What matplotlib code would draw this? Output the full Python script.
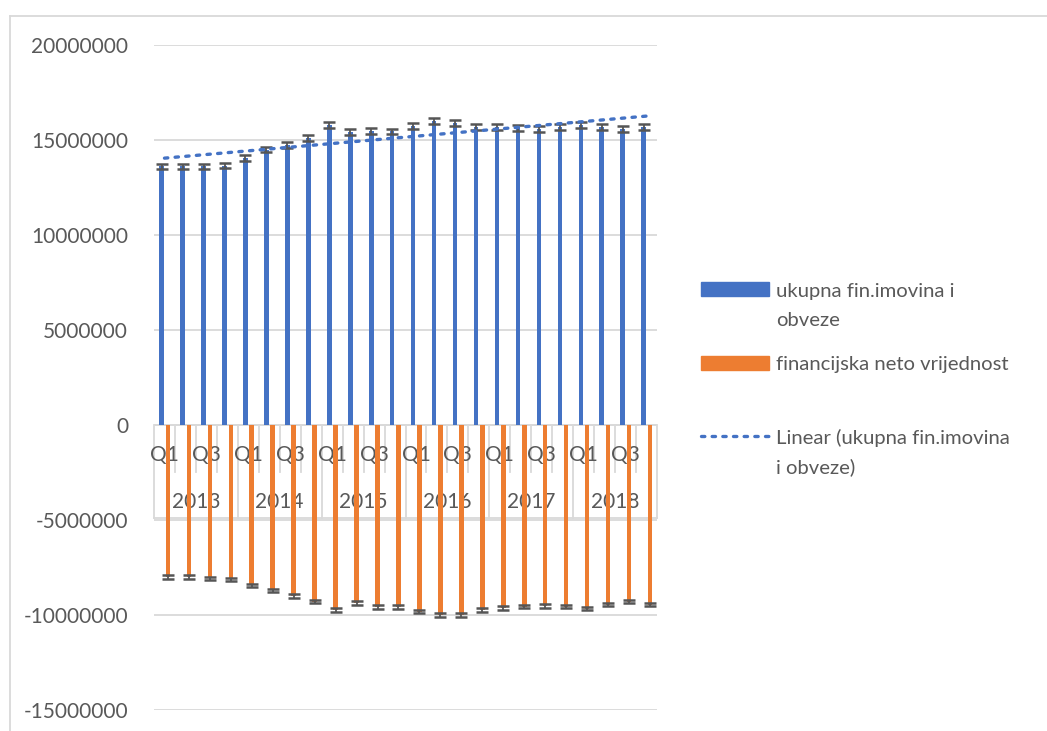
import numpy as np
import matplotlib
matplotlib.use("Agg")
import matplotlib.pyplot as plt
from matplotlib.lines import Line2D
from matplotlib.patches import Rectangle

years = ["2013", "2014", "2015", "2016", "2017", "2018"]
quarters = ["Q1", "Q2", "Q3", "Q4"]
quarter_labels = ["Q1", "", "Q3", ""]

ukupna = [13610000, 13610000, 13610000, 13650000, 14060000, 14500000,
          14750000, 15100000, 15800000, 15410000, 15470000, 15450000,
          15740000, 16000000, 15910000, 15660000, 15670000, 15650000,
          15600000, 15670000, 15780000, 15670000, 15600000, 15670000]
neto = [-8000000, -8000000, -8060000, -8110000, -8440000, -8710000,
        -9010000, -9290000, -9730000, -9380000, -9570000, -9570000,
        -9820000, -9990000, -10010000, -9720000, -9620000, -9560000,
        -9530000, -9560000, -9660000, -9450000, -9290000, -9450000]
err_pct = 0.01

label_a = ["ukupna fin.imovina i", "obveze"]
label_b = ["financijska neto vrijednost"]
label_c = ["Linear (ukupna fin.imovina", "i obveze)"]

blue = "#4472C4"
orange = "#ED7D31"
txt = "#595959"
grid = "#D9D9D9"
FONT = ["Lato", "DejaVu Sans"]
FS = 15.0
FS_LEG = 14.6

plt.rcParams["font.family"] = FONT

W, H = 1047, 731
fig = plt.figure(figsize=(W / 100, H / 100), dpi=100)
L, R, T, B = 154, 657, 45, 710
ax = fig.add_axes([L / W, 1 - B / H, (R - L) / W, (B - T) / H])

n = len(ukupna)
x = np.arange(1, n + 1)
a = np.array(ukupna, dtype=float)
b = np.array(neto, dtype=float)

bw = 0.22
ax.bar(x - 0.135, a, width=bw, color=blue, zorder=3,
       yerr=np.abs(a) * err_pct, error_kw=dict(ecolor="#555555", elinewidth=1.3,
                                                capsize=4.2, capthick=1.8, zorder=4))
ax.bar(x + 0.165, b, width=bw, color=orange, zorder=3,
       yerr=np.abs(b) * err_pct, error_kw=dict(ecolor="#555555", elinewidth=1.3,
                                                capsize=4.2, capthick=1.8, zorder=4))

# linear trend of the blue series
k, c0 = np.polyfit(x, a, 1)
ax.plot(x, k * x + c0, color=blue, linestyle=(0, (1, 2.2)), linewidth=2.4,
        dash_capstyle="round", zorder=5)

ax.set_xlim(0.5, n + 0.5)
ax.set_ylim(-15000000, 20000000)
ax.set_yticks(np.arange(-15000000, 20000001, 5000000))
ax.yaxis.set_major_formatter(matplotlib.ticker.FuncFormatter(lambda v, p: f"{int(v)}"))
ax.tick_params(axis="y", length=0, pad=18.7, labelsize=FS, labelcolor=txt)
ax.set_xticks([])
ax.grid(axis="y", color=grid, linewidth=1.3, zorder=0)
for s in ax.spines.values():
    s.set_visible(False)
ax.axhline(0, color=grid, linewidth=1.3, zorder=1)

# multi-level category axis (pixel offsets below zero line)
ppu = (B - T) / 35000000.0  # pixels per unit
def dy(px):
    return -px / ppu

q_tick = dy(47)
y_tick = dy(93)
for i in range(n + 1):
    edge = 0.5 + i
    long = (i % 4 == 0)
    ax.plot([edge, edge], [0, y_tick if long else q_tick], color=grid,
            linewidth=1.3, zorder=1, clip_on=False)
ax.plot([0.5, n + 0.5], [y_tick, y_tick], color=grid, linewidth=1.3,
        zorder=1, clip_on=False)
for i in range(n):
    ql = quarter_labels[i % 4]
    if ql:
        ax.text(x[i], dy(30), ql, ha="center", va="center", fontsize=FS,
                color=txt, zorder=2)
for j, yr in enumerate(years):
    ax.text(4 * j + 2.5, dy(77), yr, ha="center", va="center", fontsize=FS,
            color=txt, zorder=2)

# legend (figure pixel coords)
def fx(px):
    return px / W
def fy(py):
    return 1 - py / H

fig.add_artist(Rectangle((fx(701), fy(296)), fx(769) - fx(701), fy(282) - fy(296),
                         transform=fig.transFigure, color=blue))
fig.add_artist(Rectangle((fx(701), fy(370)), fx(769) - fx(701), fy(356) - fy(370),
                         transform=fig.transFigure, color=orange))
fig.add_artist(Line2D([fx(701), fx(769)], [fy(436), fy(436)], transform=fig.transFigure,
                      color=blue, linestyle=(0, (1, 2.2)), linewidth=2.4,
                      dash_capstyle="round"))
for base, lines in [(297, label_a), (370, label_b), (444, label_c)]:
    for li, line in enumerate(lines):
        fig.text(fx(776), fy(base + 29 * li), line, ha="left", va="baseline",
                 fontsize=FS_LEG, color=txt, transform=fig.transFigure)

# chart frame
fig.add_artist(Line2D([fx(10), fx(10)], [fy(16), 0], transform=fig.transFigure,
                      color="#D9D9D9", linewidth=1.3))
fig.add_artist(Line2D([fx(10), 1], [fy(16), fy(16)], transform=fig.transFigure,
                      color="#D9D9D9", linewidth=1.3))

fig.savefig("out.png", dpi=100)
